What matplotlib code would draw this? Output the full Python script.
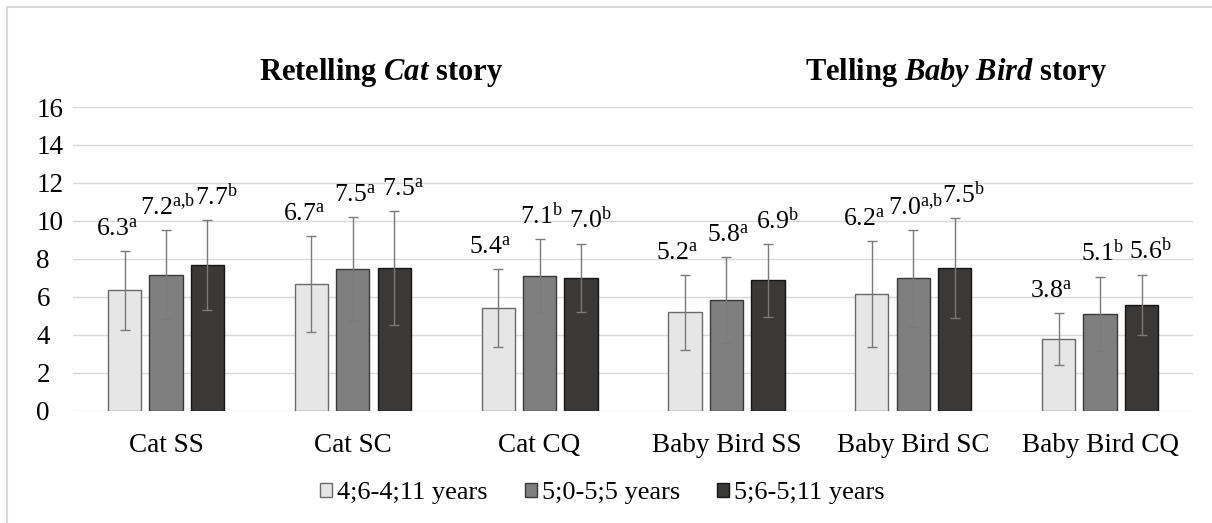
import matplotlib
matplotlib.use("Agg")
import matplotlib.pyplot as plt
import numpy as np
from matplotlib.patches import Rectangle

plt.rcParams['font.family'] = ['Liberation Serif', 'DejaVu Serif']
plt.rcParams['mathtext.fontset'] = 'custom'
plt.rcParams['mathtext.rm'] = 'Liberation Serif'
plt.rcParams['mathtext.it'] = 'Liberation Serif:italic'
plt.rcParams['mathtext.bf'] = 'Liberation Serif:bold'
plt.rcParams['mathtext.bfit'] = 'Liberation Serif:bold:italic'

# Data
categories = ['Cat SS', 'Cat SC', 'Cat CQ',
              'Baby Bird SS', 'Baby Bird SC', 'Baby Bird CQ']
groups = ['4;6-4;11 years', '5;0-5;5 years', '5;6-5;11 years']

means_46 = [6.34, 6.69, 5.42, 5.18, 6.16, 3.78]
means_50 = [7.17, 7.47, 7.10, 5.83, 6.97, 5.11]
means_56 = [7.67, 7.52, 7.01, 6.86, 7.52, 5.57]

sd_46 = [2.08, 2.53, 2.07, 1.99, 2.80, 1.38]
sd_50 = [2.33, 2.72, 1.95, 2.25, 2.55, 1.96]
sd_56 = [2.38, 2.99, 1.79, 1.91, 2.64, 1.60]

labels_46 = ['6.3', '6.7', '5.4', '5.2', '6.2', '3.8']
labels_50 = ['7.2', '7.5', '7.1', '5.8', '7.0', '5.1']
labels_56 = ['7.7', '7.5', '7.0', '6.9', '7.5', '5.6']

sup_46 = ['a', 'a', 'a', 'a', 'a', 'a']
sup_50 = ['a{,}b', 'a', 'b', 'a', 'a{,}b', 'b']
sup_56 = ['b', 'a', 'b', 'b', 'b', 'b']

series = [
    (means_46, sd_46, labels_46, sup_46, '#e6e6e6', '#6a6a6a'),
    (means_50, sd_50, labels_50, sup_50, '#7f7f7f', '#383838'),
    (means_56, sd_56, labels_56, sup_56, '#3a3937', '#151515'),
]
label_shift = [-5.5, 1.5, 6.5]  # horizontal nudge of value labels (pt)

fig = plt.figure(figsize=(12.12, 5.23), dpi=100)
ax = fig.add_axes([0.0599, 0.2147, 0.9248, 0.5807])

x = np.arange(len(categories))
width = 0.178
pitch = 0.222

for i, (m, sd, labs, sups, fc, ec) in enumerate(series):
    pos = x + (i - 1) * pitch
    ax.bar(pos, m, width, color=fc, edgecolor=ec, linewidth=1.0,
           label=groups[i], zorder=2)
    ax.errorbar(pos, m, yerr=sd, fmt='none', ecolor='#7a7a7a',
                elinewidth=1.0, capsize=3.5, capthick=1.0, zorder=3)
    for xp, mv, s, lab, sup in zip(pos, m, sd, labs, sups):
        ax.annotate(lab + r'$^{\mathrm{' + sup + '}}$', xy=(xp, mv + s),
                    xytext=(label_shift[i], 11), textcoords='offset points',
                    ha='center', va='baseline', fontsize=18.5)

ax.set_xlim(-0.5, len(categories) - 0.5)
ax.set_ylim(0, 16)
ax.set_yticks(np.arange(0, 17, 2))
ax.set_xticks(x)
ax.set_xticklabels(categories)
ax.tick_params(axis='x', length=0, pad=16, labelsize=19.5)
ax.tick_params(axis='y', length=0, pad=26, labelsize=19.5)
for t in ax.get_yticklabels():
    t.set_horizontalalignment('left')
ax.grid(True, axis='y', color='#d9d9d9', linewidth=1.0, zorder=0)
ax.set_axisbelow(True)
for sp in ax.spines.values():
    sp.set_visible(False)

# Group titles
fig.text(0.314, 0.847, r'Retelling $\mathbfit{Cat}$ story', ha='center',
         va='baseline', fontsize=22, fontweight='bold')
fig.text(0.789, 0.847, r'Telling $\mathbfit{Baby\ Bird}$ story',
         ha='center', va='baseline', fontsize=22, fontweight='bold')

ax.legend(loc='center', bbox_to_anchor=(0.497, 1 - 493 / 523),
          bbox_transform=fig.transFigure, ncol=3, frameon=False,
          fontsize=19, handlelength=0.45, handleheight=0.45,
          handletextpad=0.2, columnspacing=1.4)

# Outer frame (cut off at right and bottom like the screenshot)
fig.patches.append(Rectangle((7 / 1212, -0.2), 1.5, 1.2 - 7 / 523,
                             transform=fig.transFigure, fill=False,
                             edgecolor='#d9d9d9', linewidth=1.5))

fig.savefig('out.png', dpi=100)
